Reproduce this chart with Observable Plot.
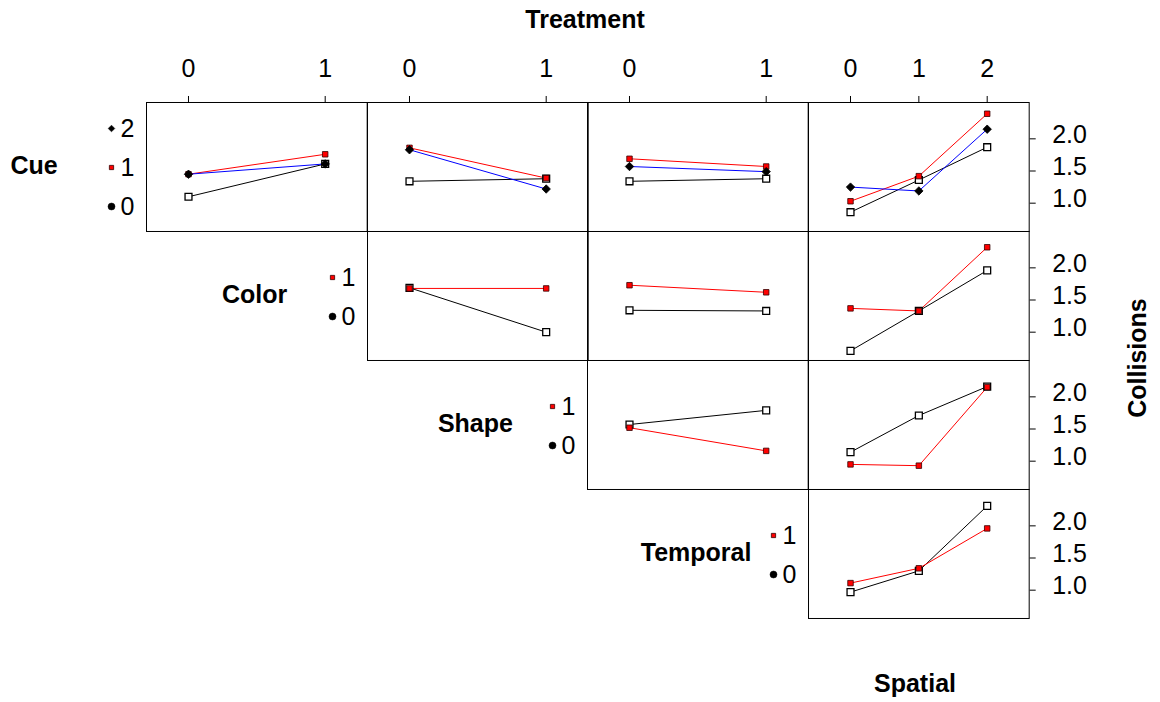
<!DOCTYPE html>
<html><head><meta charset="utf-8">
<script src="https://cdn.jsdelivr.net/npm/d3@7"></script>
<script src="https://cdn.jsdelivr.net/npm/@observablehq/plot@0.6"></script>
<style>
body{margin:0;background:#fff;}
#chart{position:relative;width:1160px;height:702px;font-family:"Liberation Sans",Arial,sans-serif;overflow:hidden;background:#fff;}
.lbl{position:absolute;font-weight:bold;font-size:25px;white-space:nowrap;transform:translate(-50%,-50%);color:#000;}
.pane{position:absolute;}
</style></head><body><div id="chart"></div>
<script>
// ---- data ----
const factorNames = ["Cue", "Color", "Shape", "Temporal", "Spatial"];
const factorLevels = [[0, 1, 2], [0, 1], [0, 1], [0, 1], [0, 1, 2]];
const seriesColors = ["black", "red", "blue"];
const yTicks = [1.0, 1.5, 2.0];
const yDomain = [0.56, 2.565];
// each array: one row per trace level (row factor), values across x-factor levels
const cueColor = [[1.10, 1.61], [1.45, 1.76], [1.45, 1.61]];
const cueShape = [[1.34, 1.38], [1.86, 1.39], [1.83, 1.22]];
const cueTemporal = [[1.34, 1.38], [1.69, 1.57], [1.57, 1.49]];
const cueSpatial = [[0.86, 1.36, 1.87], [1.03, 1.42, 2.39], [1.25, 1.19, 2.15]];
const colorShape = [[1.69, 1.00], [1.68, 1.68]];
const colorTemporal = [[1.34, 1.33], [1.73, 1.62]];
const colorSpatial = [[0.71, 1.33, 1.96], [1.37, 1.33, 2.32]];
const shapeTemporal = [[1.57, 1.79], [1.52, 1.16]];
const shapeSpatial = [[1.14, 1.71, 2.16], [0.95, 0.93, 2.15]];
const temporalSpatial = [[0.97, 1.30, 2.31], [1.11, 1.34, 1.96]];

const panelMeans = [
  [cueColor, cueShape, cueTemporal, cueSpatial],
  [null, colorShape, colorTemporal, colorSpatial],
  [null, null, shapeTemporal, shapeSpatial],
  [null, null, null, temporalSpatial]
];

// ---- layout ----
const left0 = 146, top0 = 102, pw = 220.7, ph = 129;
const FONT = '"Liberation Sans", Arial, sans-serif';
const chart = document.getElementById("chart");

function place(el, x, y) {
  const d = document.createElement("div");
  d.className = "pane";
  d.style.left = x + "px";
  d.style.top = y + "px";
  d.appendChild(el);
  chart.appendChild(d);
}
function label(text, x, y, rot) {
  const d = document.createElement("div");
  d.className = "lbl";
  d.textContent = text;
  d.style.left = x + "px";
  d.style.top = y + "px";
  if (rot) d.style.transform = "translate(-50%,-50%) rotate(-90deg)";
  chart.appendChild(d);
}

const markerStyles = [
  {symbol: "square", fill: "white", stroke: "black", r: 3.9, strokeWidth: 1.3},
  {symbol: "square", fill: "red", stroke: "#300", r: 3.1, strokeWidth: 0.8},
  {symbol: "diamond2", fill: "black", stroke: "black", r: 3.8, strokeWidth: 0.8}
];

for (let r = 0; r < 4; r++) {
  for (let c = r; c < 4; c++) {
    const means = panelMeans[r][c];
    const xLv = factorLevels[c + 1];
    const data = [];
    means.forEach((vals, s) => vals.forEach((v, i) => data.push({s: String(s), x: xLv[i], y: v})));
    const mt = r === 0 ? 60 : 0;
    const mr = c === 3 ? 90 : 0;
    const marks = [Plot.frame({stroke: "black", strokeWidth: 1})];
    if (r === 0) marks.push(Plot.axisX({anchor: "top", ticks: xLv, tickFormat: d => String(d), tickSize: 7, tickPadding: 18, label: null, fontSize: 25}));
    if (c === 3) {
      // tick lines
      marks.push(Plot.axisY({anchor: "right", ticks: yTicks, tickSize: 6, tickFormat: () => "", label: null}));
      // tick labels (drawn a little above their ticks, as in the reference)
      marks.push(Plot.axisY({anchor: "right", ticks: yTicks, tickSize: 0, tickPadding: 23, dy: -4, tickFormat: d3.format(".1f"), label: null, fontSize: 25}));
    }
    marks.push(Plot.line(data, {x: "x", y: "y", z: "s", stroke: "s", strokeWidth: 1}));
    means.forEach((_, s) => {
      const m = markerStyles[s];
      marks.push(Plot.dot(data.filter(d => d.s === String(s)), {x: "x", y: "y", ...m}));
    });
    const p = Plot.plot({
      width: pw + mr, height: ph + mt,
      marginTop: mt, marginRight: mr, marginLeft: 0, marginBottom: 0,
      x: {domain: [xLv[0], xLv[xLv.length - 1]], insetLeft: 42, insetRight: 42, axis: null},
      y: {domain: yDomain, axis: null},
      color: {domain: ["0", "1", "2"], range: seriesColors},
      style: {fontFamily: FONT, fontSize: "25px", background: "transparent", overflow: "visible", color: "black"},
      marks
    });
    place(p, left0 + c * pw, top0 + r * ph - mt);
  }
  // legend for the row factor
  const lv = factorLevels[r];
  const legData = lv.map(l => ({l: String(l)}));
  const n = lv.length;
  const legendSym = [
    {symbol: "circle", fill: "black", stroke: "black", r: 3.5, strokeWidth: 0.5},
    {symbol: "square", fill: "red", stroke: "#300", r: 2.4, strokeWidth: 0.8},
    {symbol: "diamond2", fill: "black", stroke: "black", r: 3.0, strokeWidth: 0.5}
  ];
  const legMarks = [];
  legData.forEach((d, i) => legMarks.push(Plot.dot([d], {y: "l", frameAnchor: "left", dx: 5, ...legendSym[i]})));
  legMarks.push(Plot.text(legData, {y: "l", text: "l", frameAnchor: "left", dx: 14, textAnchor: "start", fontSize: 25}));
  const leg = Plot.plot({
    width: 40, height: ph, margin: 0,
    y: {type: "point", padding: 0, domain: [...lv].reverse().map(String), range: [65 - 19.5 * (n - 1), 65 + 19.5 * (n - 1)], axis: null},
    style: {fontFamily: FONT, fontSize: "25px", background: "transparent", overflow: "visible", color: "black"},
    marks: legMarks
  });
  place(leg, left0 + r * pw - 40, top0 + r * ph);
  label(factorNames[r], left0 + r * pw - 112, top0 + r * ph + 63);
}
label("Treatment", 585, 19);
label(factorNames[4], 915, 683);
label("Collisions", 1137, 358, true);
</script></body></html>
